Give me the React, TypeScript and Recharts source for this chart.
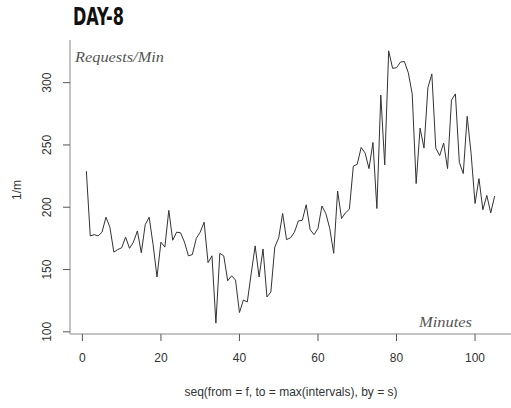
import React from 'react';
import { LineChart, Line, XAxis, YAxis } from 'recharts';

// minute index, seq(from = 1, to = 105, by = 1)
const minutes = [
  1, 2, 3, 4, 5, 6, 7, 8, 9, 10, 11, 12, 13, 14, 15, 16, 17, 18, 19, 20,
  21, 22, 23, 24, 25, 26, 27, 28, 29, 30, 31, 32, 33, 34, 35, 36, 37, 38, 39, 40,
  41, 42, 43, 44, 45, 46, 47, 48, 49, 50, 51, 52, 53, 54, 55, 56, 57, 58, 59, 60,
  61, 62, 63, 64, 65, 66, 67, 68, 69, 70, 71, 72, 73, 74, 75, 76, 77, 78, 79, 80,
  81, 82, 83, 84, 85, 86, 87, 88, 89, 90, 91, 92, 93, 94, 95, 96, 97, 98, 99, 100,
  101, 102, 103, 104, 105,
];

const requests = [
  229, 177, 178, 177, 180, 192, 184, 164, 166, 167.5,
  176, 167, 172, 181, 163.5, 186, 192, 170, 144, 172,
  168, 197.5, 173.5, 180, 179.5, 172, 161, 162, 175, 180,
  188, 155.5, 161, 107, 163, 161, 141, 145, 141.5, 115.5,
  125.5, 124, 147, 169, 144, 166.5, 128, 132, 168, 175.5,
  195, 174, 175.5, 180, 189, 189.5, 202, 182, 178, 183,
  201, 195, 183, 163, 213, 191, 195.5, 198.5, 233, 234.5,
  248, 243.5, 231, 252, 199, 290, 234, 325.5, 311.5, 312,
  316.5, 317, 308, 291, 219, 263.5, 247.5, 296, 307, 247.5,
  241.5, 251.5, 231, 286, 291, 236, 227, 273, 243, 203,
  223, 198, 209.5, 195.5, 209,
];

const xTicks = [0, 20, 40, 60, 80, 100];
const yTicks = [100, 150, 200, 250, 300];

const data = minutes.map((m, i) => ({ minute: m, rpm: requests[i] }));

const axisFont = '"Liberation Sans", Arial, sans-serif';
const serifFont = '"Liberation Serif", "DejaVu Serif", serif';

// R pads the data range by 4% on each side
const xMin = 1 - 0.04 * 104;
const xMax = 105 + 0.04 * 104;
const yMin = 107 - 0.04 * 218.5;
const yMax = 325.5 + 0.04 * 218.5;

const RotatedTick = (props: any) => {
  const { x, y, payload } = props;
  return (
    <text
      x={x}
      y={y}
      transform={`rotate(-90, ${x}, ${y})`}
      textAnchor="middle"
      fill="#333"
      fontSize={12}
      fontFamily={axisFont}
    >
      {payload.value}
    </text>
  );
};

export default function App() {
  return (
    <div style={{ position: 'absolute', left: 0, top: 0, width: 511, height: 408, background: '#fff' }}>
      <LineChart
        width={511}
        height={408}
        data={data}
        margin={{ top: 40, right: 0, left: 40, bottom: 0 }}
      >
        <XAxis
          dataKey="minute"
          type="number"
          domain={[xMin, xMax]}
          ticks={xTicks}
          allowDataOverflow
          height={74}
          tickSize={7}
          tickMargin={12}
          stroke="#888"
          tickLine={{ stroke: '#555' }}
          tick={{ fill: '#333', fontSize: 12, fontFamily: axisFont }}
        />
        <XAxis
          xAxisId="top"
          orientation="top"
          dataKey="minute"
          type="number"
          domain={[xMin, xMax]}
          height={0}
          tick={false}
          tickLine={false}
          stroke="#888"
        />
        <YAxis
          type="number"
          domain={[yMin, yMax]}
          ticks={yTicks}
          allowDataOverflow
          width={30}
          tickSize={7}
          tickMargin={12}
          stroke="#888"
          tickLine={{ stroke: '#555' }}
          tick={<RotatedTick />}
        />
        <Line
          type="linear"
          dataKey="rpm"
          stroke="#333"
          strokeWidth={1}
          dot={false}
          isAnimationActive={false}
        />
      </LineChart>
      <svg
        width={511}
        height={408}
        style={{ position: 'absolute', left: 0, top: 0, pointerEvents: 'none' }}
      >
        <text
          x={73}
          y={25}
          fontSize={25}
          fontWeight="bold"
          fontFamily='"DejaVu Sans Condensed", "DejaVu Sans", sans-serif'
          textLength={51}
          lengthAdjust="spacingAndGlyphs"
          fill="#111"
        >
          DAY-8
        </text>
        <text
          x={75}
          y={62}
          fontSize={15}
          fontStyle="italic"
          fontFamily={serifFont}
          textLength={89}
          lengthAdjust="spacingAndGlyphs"
          fill="#555"
        >
          Requests/Min
        </text>
        <text
          x={419}
          y={327}
          fontSize={15}
          fontStyle="italic"
          fontFamily={serifFont}
          textLength={53}
          lengthAdjust="spacingAndGlyphs"
          fill="#555"
        >
          Minutes
        </text>
        <text
          x={21}
          y={190}
          transform="rotate(-90, 21, 190)"
          textAnchor="middle"
          fontSize={12}
          fontFamily={axisFont}
          fill="#333"
        >
          1/m
        </text>
        <text
          x={291}
          y={396}
          textAnchor="middle"
          fontSize={12}
          fontFamily={axisFont}
          fill="#333"
        >
          seq(from = f, to = max(intervals), by = s)
        </text>
      </svg>
    </div>
  );
}
